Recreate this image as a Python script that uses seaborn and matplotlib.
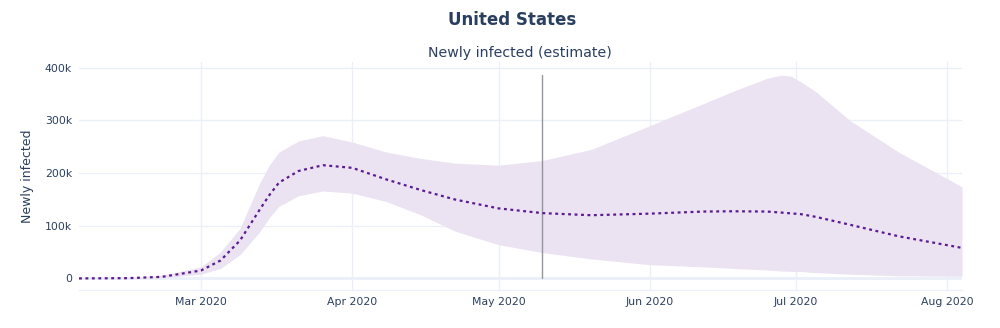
import numpy as np
import pandas as pd
import matplotlib
matplotlib.use("Agg")
import matplotlib.pyplot as plt
import matplotlib.dates as mdates
from matplotlib.ticker import FuncFormatter, MultipleLocator
import seaborn as sns

# ---- data ----
dates = ["2020-02-05", "2020-02-15", "2020-02-22", "2020-03-01", "2020-03-05",
         "2020-03-09", "2020-03-13", "2020-03-15", "2020-03-17", "2020-03-21",
         "2020-03-26", "2020-04-01", "2020-04-08", "2020-04-15", "2020-04-22",
         "2020-05-01", "2020-05-10", "2020-05-20", "2020-06-01", "2020-06-12",
         "2020-06-18", "2020-06-25", "2020-06-28", "2020-06-30", "2020-07-02",
         "2020-07-05", "2020-07-12", "2020-07-22", "2020-08-04"]
median = [0, 500, 3000, 15000, 34000,
          72000, 130000, 158000, 182000, 204000,
          215000, 210000, 188000, 168000, 150000,
          133000, 124000, 120000, 123000, 127000,
          127500, 127000, 125000, 123500, 122000,
          117000, 102000, 80000, 58000]
upper = [0, 1000, 6000, 22000, 50000,
         95000, 180000, 215000, 240000, 261000,
         271000, 259000, 240000, 228000, 219000,
         215000, 224000, 245000, 290000, 332000,
         355000, 380000, 386000, 384000, 373000,
         355000, 300000, 240000, 174000]
lower = [0, 0, 1000, 8000, 19000,
         45000, 88000, 115000, 137000, 157000,
         166000, 162000, 146000, 121000, 90000,
         64000, 49000, 37000, 26000, 22000,
         19000, 16000, 14000, 13500, 13000,
         11000, 8000, 5000, 4000]
marker_date = "2020-05-10"
title = "United States"
subtitle = "Newly infected (estimate)"
ylabel = "Newly infected"

df = pd.DataFrame({"date": pd.to_datetime(dates), "median": median,
                   "upper": upper, "lower": lower})

sns.set_theme(style="white")
plt.rcParams["font.family"] = ["DejaVu Sans"]

TEXT = "#2a3f5f"
GRID = "#EBF0F8"
LINE = "#5B1A92"
FILL = "#EBE3F1"

fig = plt.figure(figsize=(10, 3.28), dpi=100)
ax = fig.add_axes([0.079, 1 - 290 / 328, 0.962 - 0.079, (290 - 62) / 328])

ax.fill_between(df["date"], df["lower"], df["upper"], color=FILL, linewidth=0, zorder=1)
sns.lineplot(data=df, x="date", y="median", ax=ax, color=LINE, linewidth=1.6, zorder=3)
ax.lines[-1].set_dashes((1.3, 1.6))

md = pd.to_datetime(marker_date)
ax.plot([md, md], [0, max(upper)], color="#8a8a94", linewidth=1.0, alpha=0.9, zorder=2)

ax.set_xlim(df["date"].min(), df["date"].max())
ax.set_ylim(-22000, 411000)

ax.xaxis.set_major_locator(mdates.MonthLocator())
ax.xaxis.set_major_formatter(mdates.DateFormatter("%b %Y"))
ax.yaxis.set_major_locator(MultipleLocator(100000))
ax.yaxis.set_major_formatter(FuncFormatter(lambda v, p: "0" if v == 0 else f"{int(v/1000)}k"))

ax.grid(True, color=GRID, linewidth=1.0, zorder=0)
ax.set_axisbelow(True)
ax.axhline(0, color=GRID, linewidth=2, zorder=0.5)
for s in ["top", "right", "left"]:
    ax.spines[s].set_visible(False)
ax.spines["bottom"].set_color(GRID)
ax.spines["bottom"].set_linewidth(1.0)

ax.tick_params(axis="both", length=0, labelsize=7.8, labelcolor=TEXT)
ax.tick_params(axis="x", pad=5)
ax.tick_params(axis="y", pad=5)
ax.set_xlabel("")
ax.set_ylabel(ylabel, color=TEXT, fontsize=9, labelpad=8)

fig.text(0.512, 0.938, title, ha="center", va="center", fontsize=12,
         fontweight="bold", color=TEXT)
fig.text(0.5195, 0.838, subtitle, ha="center", va="center", fontsize=10.2,
         color=TEXT)

fig.savefig("out.png", dpi=100)
